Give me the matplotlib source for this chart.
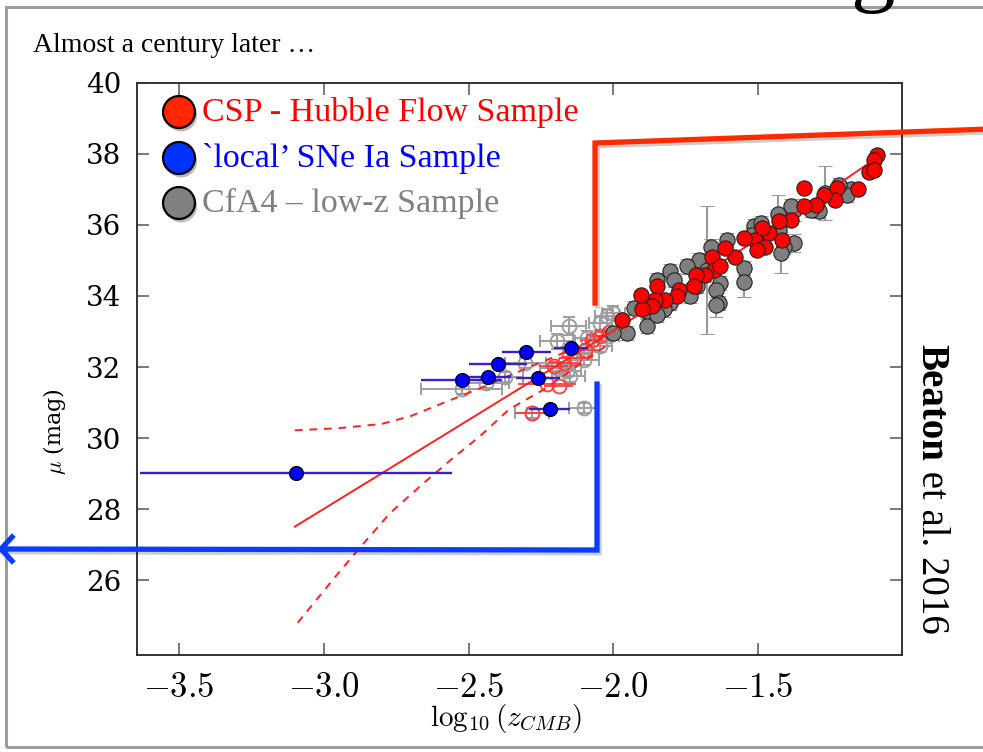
import matplotlib
matplotlib.use('Agg')
import matplotlib.pyplot as plt
from matplotlib.lines import Line2D
from matplotlib.patches import Rectangle
from matplotlib.text import Annotation
import matplotlib.patheffects as pe

plt.rcParams['mathtext.fontset'] = 'cm'
plt.rcParams['font.family'] = ['DejaVu Serif']

# ---------------- data ----------------
# CSP Hubble-flow sample (filled red)
csp_x = [-1.088, -1.100, -1.117, -1.100, -1.154, -1.228, -1.236, -1.273, -1.300, -1.340,
         -1.342, -1.388, -1.428, -1.463, -1.486, -1.510, -1.475, -1.503, -1.417, -1.550,
         -1.578, -1.613, -1.659, -1.653, -1.630, -1.682, -1.716, -1.722, -1.774, -1.780,
         -1.820, -1.849, -1.855, -1.866, -1.901, -1.906, -1.970]
csp_y = [37.97, 37.83, 37.50, 37.55, 37.00, 37.03, 36.70, 36.85, 36.57, 37.03,
         36.54, 36.14, 36.10, 35.77, 35.91, 35.58, 35.39, 35.30, 35.58, 35.63,
         35.11, 35.35, 35.11, 34.74, 34.83, 34.60, 34.60, 34.27, 34.18, 33.99,
         33.90, 34.27, 33.90, 33.71, 33.62, 34.04, 33.33]

# CfA4 low-z sample in the Hubble flow (filled grey)
cfa_x = [-1.180, -1.193, -1.221, -1.270, -1.290, -1.318, -1.375, -1.388, -1.375, -1.410,
         -1.420, -1.430, -1.515, -1.490, -1.607, -1.664, -1.705, -1.745, -1.803, -1.791,
         -1.849, -1.734, -1.711, -1.630, -1.647, -1.550, -1.550, -1.636, -1.803, -1.826,
         -1.883, -1.883, -1.930, -1.953, -1.849, -1.490, -1.520, -1.428, -1.676, -2.000,
         -1.644]
cfa_y = [37.00, 36.85, 37.13, 36.90, 36.38, 36.42, 36.42, 36.52, 35.49, 35.39,
         35.22, 36.30, 35.96, 36.05, 35.58, 35.39, 35.02, 34.83, 34.69, 34.46,
         34.46, 33.99, 34.27, 34.36, 34.18, 34.78, 34.40, 33.80, 33.80, 33.62,
         33.57, 33.15, 33.66, 32.96, 33.47, 35.49, 35.72, 35.86, 34.72, 32.95,
         33.75]
cfa_yerr = [0.15, 0.20, 0.20, 0.75, 0.20, 0.20, 0.30, 0.20, 0.25, 0.20,
            0.58, 0.54, 0.20, 0.20, 0.20, 0.20, 0.20, 0.20, 0.20, 0.20,
            0.20, 0.20, 0.20, 0.20, 0.20, 0.20, 0.44, 0.20, 0.20, 0.20,
            0.20, 0.20, 0.20, 0.20, 0.20, 0.20, 0.20, 0.20, 1.80, 0.20,
            0.35]

# CfA4 objects at low z (open grey)
cfa_low_x = [-2.523, -2.440, -2.373, -2.304, -2.281, -2.194, -2.194, -2.160, -2.154, -2.148,
             -2.125, -2.102, -2.100, -2.090, -2.045, -2.045, -2.022, -2.020, -2.000]
cfa_low_y = [31.39, 31.55, 31.72, 32.12, 30.71, 32.72, 31.98, 31.88, 33.15, 31.74,
             32.40, 30.85, 32.21, 32.82, 33.24, 32.58, 33.43, 32.87, 33.53]
cfa_low_xerr = [0.14, 0.08, 0.06, 0.07, 0.06, 0.06, 0.06, 0.05, 0.06, 0.05,
                0.05, 0.05, 0.05, 0.05, 0.04, 0.04, 0.04, 0.04, 0.04]
cfa_low_yerr = [0.15, 0.15, 0.15, 0.15, 0.15, 0.20, 0.15, 0.15, 0.25, 0.15,
                0.15, 0.15, 0.15, 0.20, 0.20, 0.15, 0.20, 0.15, 0.20]

# CSP objects at low z (open red)
csp_low_x = [-2.281, -2.230, -2.189, -2.206, -2.172, -2.137, -2.097, -2.074, -2.045, -2.016]
csp_low_y = [30.71, 31.51, 31.48, 32.02, 32.12, 32.26, 32.49, 32.77, 32.87, 33.00]
csp_low_xerr = [0.06, 0.10, 0.05, 0.05, 0.05, 0.05, 0.05, 0.04, 0.04, 0.04]

# 'local' SNe Ia sample (blue)
local_x = [-3.096, -2.523, -2.433, -2.398, -2.300, -2.261, -2.220, -2.146]
local_y = [29.01, 31.63, 31.72, 32.09, 32.41, 31.68, 30.83, 32.54]
local_xerr = [0.54, 0.14, 0.08, 0.10, 0.086, 0.076, 0.07, 0.06]

# Hubble-law fit and its band
fit_x = [-3.10, -2.60, -2.00, -1.50, -1.07]
fit_y = [27.51, 30.01, 33.02, 35.60, 38.00]
band_up_x = [-3.10, -2.95, -2.80, -2.70, -2.60, -2.47, -2.36, -2.20, -2.02]
band_up_y = [30.22, 30.28, 30.40, 30.62, 30.95, 31.37, 31.76, 32.30, 32.95]
band_lo_x = [-3.09, -2.95, -2.87, -2.77, -2.66, -2.56, -2.46, -2.36, -2.24, -2.02]
band_lo_y = [24.81, 26.20, 26.97, 27.90, 28.70, 29.40, 30.06, 30.81, 31.37, 32.62]

xticks = [-3.5, -3.0, -2.5, -2.0, -1.5]
xtick_labels = [r'$-3.5$', r'$-3.0$', r'$-2.5$', r'$-2.0$', r'$-1.5$']
yticks = [26, 28, 30, 32, 34, 36, 38, 40]

legend_labels = ['CSP - Hubble Flow Sample', "`local\u2019 SNe Ia Sample", 'CfA4 \u2013 low-z Sample']
legend_marker_colors = ['#ff2600', '#0033ff', '#808080']
legend_text_colors = ['#ff0000', '#0000ff', '#808080']

# ---------------- figure ----------------
W, H = 983, 752
def fx(px):
    return px / W
def fy(py):
    return 1 - py / H

fig = plt.figure(figsize=(W / 100, H / 100), dpi=100)
fig.patch.set_facecolor('white')

# slide frame
frame = Rectangle((fx(6), fy(747)), fx(1000) - fx(6), fy(7) - fy(747), transform=fig.transFigure,
                  fill=False, ec='#9c9c9c', lw=2.2, zorder=0)
fig.patches.append(frame)

ax = fig.add_axes([fx(136.7), fy(655), (901.7 - 136.7) / W, (655 - 82.7) / H])

ax.errorbar(cfa_low_x, cfa_low_y, xerr=cfa_low_xerr, yerr=cfa_low_yerr, fmt='o', mfc='none',
            mec='#9e9e9e', ecolor='#9e9e9e', ms=10, mew=1.4, elinewidth=1.4, capsize=4,
            capthick=1.4, zorder=2)
ax.errorbar(csp_low_x, csp_low_y, xerr=csp_low_xerr, fmt='o', mfc='none',
            mec='#ff3b3b', ecolor='#ff3b3b', ms=10, mew=1.3, elinewidth=1.3, capsize=0, zorder=2.2)
ax.errorbar(cfa_x, cfa_y, yerr=cfa_yerr, fmt='o', mfc='#7f7f7f', mec='#222222', mew=0.8, ms=11,
            ecolor='#9a9a9a', elinewidth=1.5, capsize=5, capthick=1.5, zorder=3)
ax.plot(fit_x, fit_y, color='#ff1f1f', lw=1.4, zorder=3.5)
ax.plot(band_up_x, band_up_y, color='#ff1f1f', lw=1.4, ls=(0, (4, 3.5)), zorder=3.5)
ax.plot(band_lo_x, band_lo_y, color='#ff1f1f', lw=1.4, ls=(0, (4, 3.5)), zorder=3.5)
ax.plot(csp_x, csp_y, 'o', mfc='#ff0000', mec='#222222', mew=0.8, ms=11, zorder=4)
ax.errorbar(local_x, local_y, xerr=local_xerr, fmt='o', mfc='#0000ff', mec='k', mew=0.9, ms=10,
            ecolor='#3a20c8', elinewidth=1.7, capsize=0, zorder=5)

ax.set_xlim(-3.646, -1.004)
ax.set_ylim(23.9, 40)
ax.set_xticks(xticks)
ax.set_xticklabels(xtick_labels, fontsize=25)
ax.set_yticks(yticks)
ax.set_yticklabels([str(v) for v in yticks], fontsize=20)
ax.tick_params(direction='in', length=8.6, width=1.1, top=True, right=True, color='#555555')
ax.tick_params(axis='y', pad=11)
ax.tick_params(axis='x', pad=11)
for s in ax.spines.values():
    s.set_color('#333333')
    s.set_linewidth(1.4)

ax.set_xlabel(r'$\log_{10}(z_{CMB})$', fontsize=21)
ax.xaxis.set_label_coords((506 - 136.7) / 765, (655 - 702) / 572.3)
ax.set_ylabel(r'$\mu$ (mag)', fontsize=16)
ax.yaxis.set_label_coords((68 - 136.7) / 765, (655 - 432) / 572.3)

# legend drawn on the slide
leg_y = [112, 158, 203]
for lab, mc, tc, py in zip(legend_labels, legend_marker_colors, legend_text_colors, leg_y):
    m = Line2D([fx(179)], [fy(py)], transform=fig.transFigure, marker='o', ms=23, mfc=mc,
               mec='k', mew=1.6, ls='none', zorder=10,
               path_effects=[pe.SimplePatchShadow(offset=(1.5, -2.5), alpha=0.3), pe.Normal()])
    fig.add_artist(m)
    fig.text(fx(202), fy(py), lab, color=tc, fontsize=24.5, family='Liberation Serif',
             ha='left', va='center', zorder=10)

# title of slide panel
fig.text(fx(33), fy(45), 'Almost a century later \u2026', fontsize=20, family='Liberation Serif',
         ha='left', va='center')
# partial glyph of slide heading, cut at the top (as in the slide)
fig.text(fx(872), fy(-5), 'g', fontsize=64, family='Liberation Serif', ha='center', va='baseline')

# citation
t1 = fig.text(fx(931), fy(344), 'Beaton', rotation=-90, fontsize=28, family='Liberation Serif',
              weight='bold', ha='center', va='top')
t2 = Annotation(' et al. 2016', xy=(0.5, 0), xycoords=t1, rotation=-90, fontsize=28,
                family='Liberation Serif', ha='center', va='top')
fig.add_artist(t2)

# bracket annotations
shadow = [pe.SimpleLineShadow(offset=(1.5, -2), alpha=0.2), pe.Normal()]
red_path = [(595, 303), (595, 143), (990, 129)]
fig.add_artist(Line2D([fx(p[0]) for p in red_path], [fy(p[1]) for p in red_path],
                      transform=fig.transFigure, color='#ff2a00', lw=3.8,
                      solid_joinstyle='miter', path_effects=shadow, zorder=8))
blue_path = [(597, 384), (597, 550), (0, 549)]
fig.add_artist(Line2D([fx(p[0]) for p in blue_path], [fy(p[1]) for p in blue_path],
                      transform=fig.transFigure, color='#0a3cff', lw=3.8,
                      solid_joinstyle='miter', path_effects=shadow, zorder=8))
arrow_path = [(12, 537), (1, 549), (12, 561)]
fig.add_artist(Line2D([fx(p[0]) for p in arrow_path], [fy(p[1]) for p in arrow_path],
                      transform=fig.transFigure, color='#0a3cff', lw=3.8, zorder=8))

fig.savefig('out.png', dpi=100)
